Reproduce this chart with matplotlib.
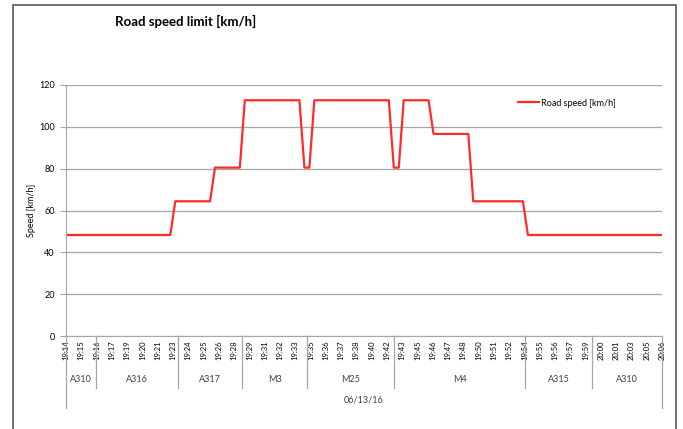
import matplotlib.pyplot as plt
from matplotlib.patches import Rectangle
from matplotlib.transforms import blended_transform_factory

plt.rcParams['font.family'] = ['Lato', 'DejaVu Sans']

# datos: velocidad limite por muestra (km/h)
muestra = [0, 21, 22, 29, 30, 35, 36, 47, 48, 49, 50, 65, 66, 67, 68,
           73, 74, 81, 82, 92, 93, 120]
velocidad = [48.3, 48.3, 64.4, 64.4, 80.5, 80.5, 112.7, 112.7, 80.5, 80.5,
             112.7, 112.7, 80.5, 80.5, 112.7, 112.7, 96.6, 96.6, 64.4, 64.4,
             48.3, 48.3]

horas = ["19:14", "19:15", "19:16", "19:17", "19:19", "19:20", "19:21", "19:23",
         "19:24", "19:25", "19:26", "19:28", "19:29", "19:31", "19:32", "19:33",
         "19:35", "19:36", "19:37", "19:38", "19:40", "19:42", "19:43", "19:45",
         "19:46", "19:47", "19:48", "19:50", "19:51", "19:52", "19:54", "19:55",
         "19:56", "19:57", "19:59", "20:00", "20:01", "20:03", "20:05", "20:06"]

carreteras = ["A310", "A316", "A317", "M3", "M25", "M4", "A315", "A310"]
limites = [0, 6, 22.5, 35.5, 48.5, 66, 92.5, 106, 120]
fecha = "06/13/16"

n_total = 120
gris = "#a6a6a6"

fig = plt.figure(figsize=(6.83, 4.29), dpi=100)
ax = fig.add_axes([66 / 683, 1 - 336 / 429, 596 / 683, 251 / 429])

ax.plot(muestra, velocidad, color="#ff2a2a", lw=1.6, label="Road speed [km/h]")

ax.set_xlim(0, n_total)
ax.set_ylim(0, 120)
ax.set_yticks(range(0, 121, 20))
ax.yaxis.grid(True, color=gris, lw=0.9)
ax.set_axisbelow(True)
for lado in ["top", "right"]:
    ax.spines[lado].set_visible(False)
ax.spines["left"].set_color(gris)
ax.spines["bottom"].set_color(gris)
ax.tick_params(axis="y", length=4, color=gris, labelsize=6.5, pad=4)

pos = [i * n_total / (len(horas) - 1) for i in range(len(horas))]
ax.set_xticks(pos)
ax.set_xticklabels(horas, rotation=90, fontsize=5.5)
ax.tick_params(axis="x", length=0, pad=3)

trans = blended_transform_factory(ax.transData, ax.transAxes)
for i, x in enumerate(limites):
    fondo = -0.287 if i in (0, len(limites) - 1) else -0.207
    ax.plot([x, x], [0, fondo], color=gris, lw=0.9, transform=trans, clip_on=False)
for i, nombre in enumerate(carreteras):
    centro = (limites[i] + limites[i + 1]) / 2
    ax.text(centro, -0.175, nombre, transform=trans, ha="center", va="center",
            fontsize=6.5, color="#404040")
ax.text(0.5, -0.255, fecha, transform=ax.transAxes, ha="center", va="center",
        fontsize=6.5, color="#404040")

ax.legend(loc="center left", bbox_to_anchor=(0.758, 0.928), frameon=False,
          fontsize=6.5, borderpad=0, borderaxespad=0, handlelength=2.4,
          handletextpad=0.15)

fig.text(115 / 683, 1 - 21 / 429, "Road speed limit [km/h]", ha="left",
         va="center", fontsize=9.5, fontweight="bold")
fig.text(31 / 683, 1 - 210 / 429, "Speed [km/h]", ha="center", va="center",
         rotation=90, fontsize=6.5)

# marco exterior
fig.patches.append(Rectangle((13 / 683, -0.1), 663 / 683, 1.1 - 5 / 429,
                             transform=fig.transFigure, fill=False,
                             edgecolor="#595959", lw=1.2))

fig.savefig("out.png", dpi=100)
